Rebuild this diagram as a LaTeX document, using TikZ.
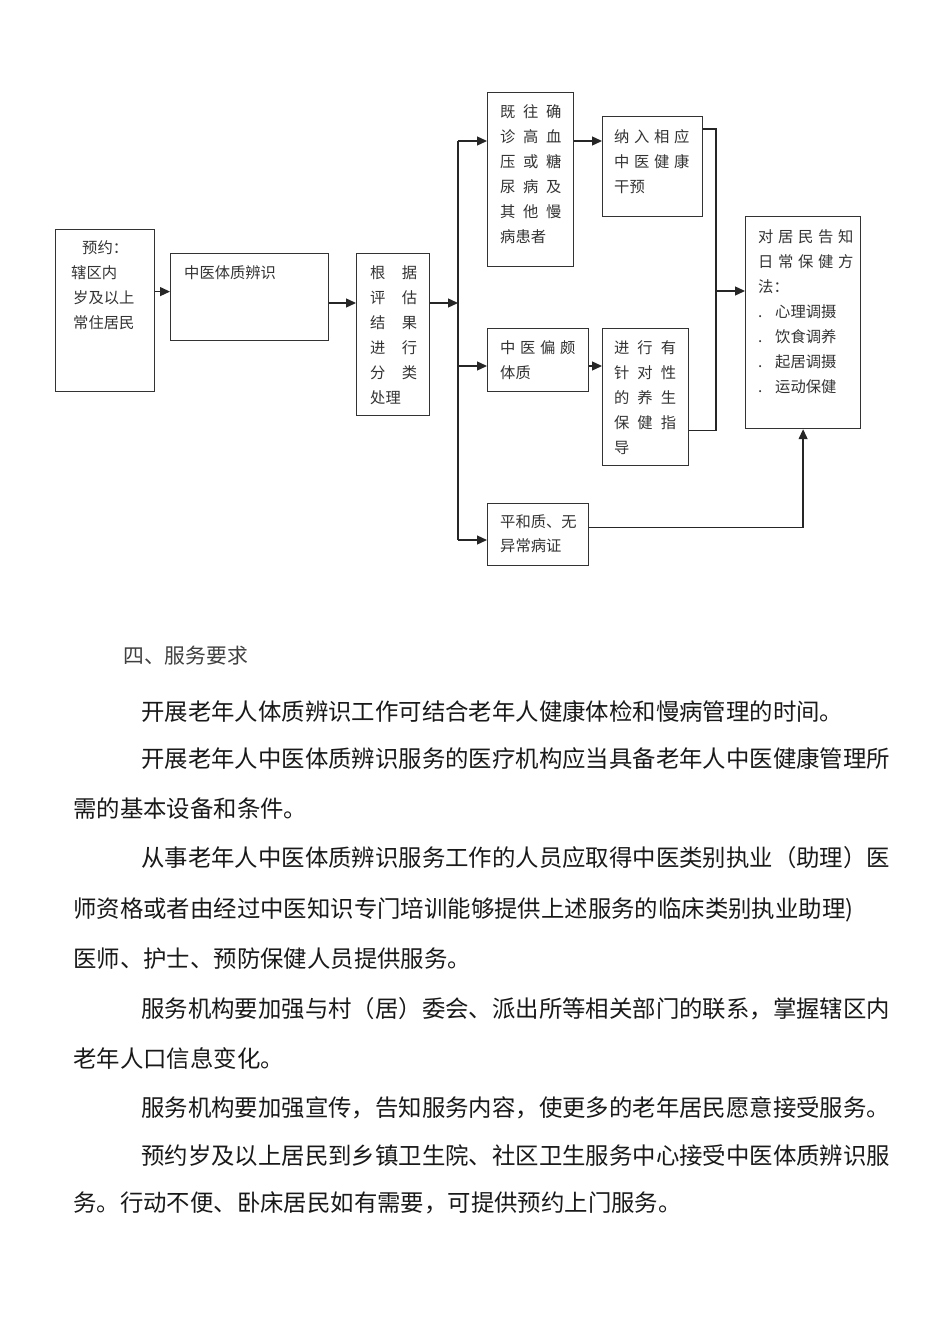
\documentclass[tikz,border=0pt]{standalone}
\usepackage{fontspec}
\setmainfont{Noto Sans CJK SC}
\usepackage{tikz}
\usetikzlibrary{arrows.meta,positioning,calc}
\newlength{\chgap}
\newcommand{\cg}{\hspace{\chgap}}

\begin{document}
\begin{tikzpicture}[x=1pt,y=-1pt,
  box/.style={draw=black!80,line width=1.2pt,anchor=north west,inner sep=0pt},
  txt/.style={anchor=north west,inner sep=0pt,align=left,text=black!80,font=\fontsize{15.3}{25}\selectfont},
  chargap/.style={execute at begin node={\setlength{\chgap}{#1}}},
  arr/.style={-{Triangle[length=10pt,width=9pt]},line width=1.3pt,draw=black!85},
  link/.style={line width=1.3pt,draw=black!85},
  para/.style={anchor=base west,inner sep=0pt,text=black!90,font=\fontsize{23.4}{28}\selectfont}]

  \useasboundingbox (0,0) rectangle (950,1344);

  % flow chart boxes
  \node[box,minimum width=99pt,minimum height=162pt] (yuyue) at (55,229) {};
  \node[box,minimum width=158pt,minimum height=87pt] (bianshi) at (170,253) {};
  \node[box,minimum width=73pt,minimum height=162pt] (genju) at (356,253) {};
  \node[box,minimum width=86pt,minimum height=174pt] (jiwang) at (487,92) {};
  \node[box,minimum width=100pt,minimum height=100pt] (narun) at (602,116) {};
  \node[box,minimum width=101pt,minimum height=63pt] (pianpo) at (487,328) {};
  \node[box,minimum width=86pt,minimum height=137pt] (jinxing) at (602,328) {};
  \node[box,minimum width=101pt,minimum height=62pt] (pinghe) at (487,503) {};
  \node[box,minimum width=115pt,minimum height=212pt] (gaozhi) at (745,216) {};

  % box texts
  \node[txt] (yuyueT) at (71,240) {\hspace*{11pt}预约：\\辖区内\\\hspace*{2pt}岁及以上\\\hspace*{2pt}常住居民};
  \node[txt] (bianshiT) at (184,265) {中医体质辨识};
  \node[txt,chargap=16.4pt] (genjuT) at (370,265) {根\cg{}据\\评\cg{}估\\结\cg{}果\\进\cg{}行\\分\cg{}类\\处理};
  \node[txt,chargap=7.7pt] (jiwangT) at (500,104) {既\cg{}往\cg{}确\\诊\cg{}高\cg{}血\\压\cg{}或\cg{}糖\\尿\cg{}病\cg{}及\\其\cg{}他\cg{}慢\\病患者};
  \node[txt,chargap=4.7pt] (narunT) at (614,129) {纳\cg{}入\cg{}相\cg{}应\\中\cg{}医\cg{}健\cg{}康\\干预};
  \node[txt,chargap=4.7pt] (pianpoT) at (500,340) {中\cg{}医\cg{}偏\cg{}颇\\体质};
  \node[txt,chargap=8pt] (jinxingT) at (614,340) {进\cg{}行\cg{}有\\针\cg{}对\cg{}性\\的\cg{}养\cg{}生\\保\cg{}健\cg{}指\\导};
  \node[txt,font=\fontsize{15.3}{24}\selectfont] (pingheT) at (500,515) {平和质、无\\异常病证};
  \node[txt,chargap=4.7pt] (gaozhiT) at (758,229) {对\cg{}居\cg{}民\cg{}告\cg{}知\\日\cg{}常\cg{}保\cg{}健\cg{}方\\法：\\\makebox[17pt][l]{.}心理调摄\\\makebox[17pt][l]{.}饮食调养\\\makebox[17pt][l]{.}起居调摄\\\makebox[17pt][l]{.}运动保健};

  % connectors
  \coordinate (trunkT) at (458,141);
  \coordinate (trunk) at (458,303);
  \coordinate (trunkM) at (458,366);
  \coordinate (trunkB) at (458,540);
  \coordinate (merge) at (716,291);
  \draw[arr] ([yshift=19pt]yuyue.east) -- ([yshift=19pt]yuyue.east -| bianshi.west);
  \draw[arr] (bianshi.east |- trunk) -- (genju.west |- trunk);
  \draw[arr] (genju.east |- trunk) -- (trunk);
  \draw[link] (trunkT) -- (trunkB);
  \draw[arr] (trunkT) -- (jiwang.west |- trunkT);
  \draw[arr] (trunkM) -- (pianpo.west |- trunkM);
  \draw[arr] (trunkB) -- (pinghe.west |- trunkB);
  \draw[arr] (jiwang.east |- trunkT) -- (narun.west |- trunkT);
  \draw[arr] (pianpo.east |- trunkM) -- (jinxing.west |- trunkM);
  \draw[link] ([yshift=-13pt]narun.north east) -| (merge) |- ([yshift=36pt]jinxing.south east);
  \draw[arr] (merge) -- (gaozhi.west |- merge);
  \draw[arr] ([yshift=7pt]pinghe.east) -| (gaozhi.south);

  % text below
  \node[anchor=base west,inner sep=0pt,text=black!75,font=\fontsize{20.8}{24}\selectfont] (heading) at (123,663) {四、服务要求};
  \node[para] (p1a) at (141,720) {开展老年人体质辨识工作可结合老年人健康体检和慢病管理的时间。};
  \node[para] (p2a) at (141,767) {开展老年人中医体质辨识服务的医疗机构应当具备老年人中医健康管理所};
  \node[para] (p2b) at (73,817) {需的基本设备和条件。};
  \node[para] (p3a) at (141,866) {从事老年人中医体质辨识服务工作的人员应取得中医类别执业（助理）医};
  \node[para] (p3b) at (73,917) {师资格或者由经过中医知识专门培训能够提供上述服务的临床类别执业助理)};
  \node[para] (p3c) at (73,967) {医师、护士、预防保健人员提供服务。};
  \node[para] (p4a) at (141,1017) {服务机构要加强与村（居）委会、派出所等相关部门的联系，掌握辖区内};
  \node[para] (p4b) at (73,1067) {老年人口信息变化。};
  \node[para] (p5a) at (141,1116) {服务机构要加强宣传，告知服务内容，使更多的老年居民愿意接受服务。};
  \node[para] (p6a) at (141,1164) {预约岁及以上居民到乡镇卫生院、社区卫生服务中心接受中医体质辨识服};
  \node[para] (p6b) at (73,1211) {务。行动不便、卧床居民如有需要，可提供预约上门服务。};
\end{tikzpicture}
\end{document}
